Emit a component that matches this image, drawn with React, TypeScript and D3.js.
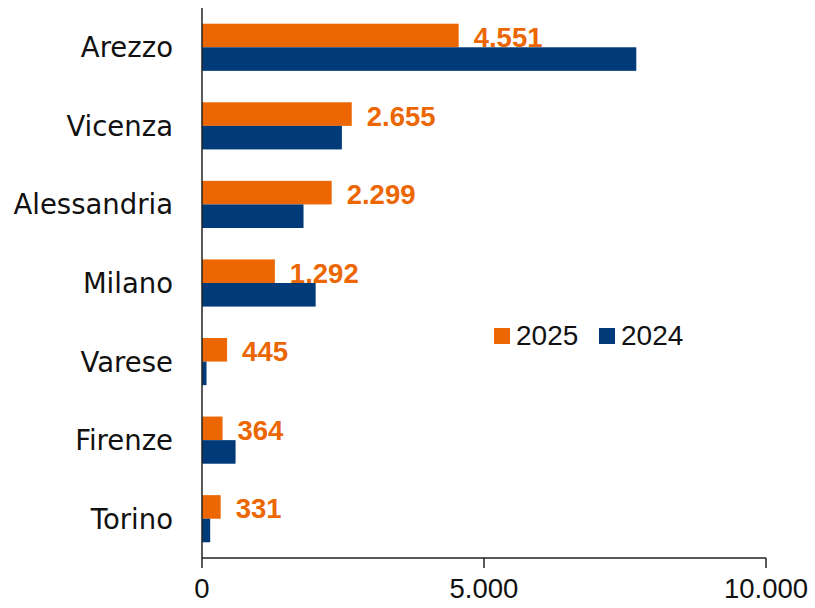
import React from "react";
import * as d3 from "d3";

const categories = ["Arezzo", "Vicenza", "Alessandria", "Milano", "Varese", "Firenze", "Torino"];
const values2025 = [4551, 2655, 2299, 1292, 445, 364, 331];
const values2024 = [7700, 2480, 1800, 2015, 80, 595, 145];
const seriesNames = ["2025", "2024"];
const xTicks = [0, 5000, 10000];

const width = 815;
const height = 608;
const orange = "#ec6602";
const blue = "#003a78";
const numFont = "'Liberation Sans', Arial, sans-serif";
const catFont = "'DejaVu Sans', sans-serif";

const fmt = (v: number) => d3.format(",")(v).replace(/,/g, ".");

export default function App() {
  const x = d3.scaleLinear().domain([0, 10000]).range([202, 766]);
  const y = d3.scaleBand().domain(categories).range([8, 558]).paddingInner(0.4).paddingOuter(0.2);
  const sub = d3.scaleBand().domain(seriesNames).range([0, y.bandwidth()]);
  const colors = [orange, blue];

  return (
    <svg width={width} height={height} style={{ position: "absolute", left: 0, top: 0, background: "#fff" }}>
      {categories.map((c, i) => {
        const y0 = y(c) as number;
        const vals = [values2025[i], values2024[i]];
        return (
          <g key={c}>
            {seriesNames.map((s, j) => (
              <rect
                key={s}
                x={x(0)}
                y={y0 + (sub(s) as number)}
                width={x(vals[j]) - x(0)}
                height={sub.bandwidth()}
                fill={colors[j]}
              />
            ))}
            <text
              x={x(values2025[i]) + 15}
              y={y0 + (sub("2025") as number) + sub.bandwidth() / 2 + 2}
              dominantBaseline="central"
              fill={orange}
              fontFamily={numFont}
              fontWeight="bold"
              fontSize={27.5}
            >
              {fmt(values2025[i])}
            </text>
            <text
              x={173}
              y={y0 + y.bandwidth() / 2}
              dominantBaseline="central"
              textAnchor="end"
              fill="#111"
              fontFamily={catFont}
              fontSize={27.5}
            >
              {c}
            </text>
          </g>
        );
      })}

      {/* axes */}
      <line x1={x(0)} x2={x(0)} y1={8} y2={558} stroke="#222" strokeWidth={1.5} />
      <line x1={x(0)} x2={x(10000)} y1={558} y2={558} stroke="#222" strokeWidth={1.5} />
      {xTicks.map((t) => (
        <g key={t}>
          <line x1={x(t)} x2={x(t)} y1={558} y2={568} stroke="#222" strokeWidth={1.5} />
          <text x={x(t)} y={598} textAnchor="middle" fill="#111" fontFamily={numFont} fontSize={27.5}>
            {fmt(t)}
          </text>
        </g>
      ))}

      {/* legend */}
      {seriesNames.map((s, j) => {
        const lx = 494 + j * 105;
        return (
          <g key={s}>
            <rect x={lx} y={328} width={16} height={16} fill={colors[j]} />
            <text x={lx + 22} y={345} fill="#111" fontFamily={numFont} fontSize={28}>
              {s}
            </text>
          </g>
        );
      })}
    </svg>
  );
}
